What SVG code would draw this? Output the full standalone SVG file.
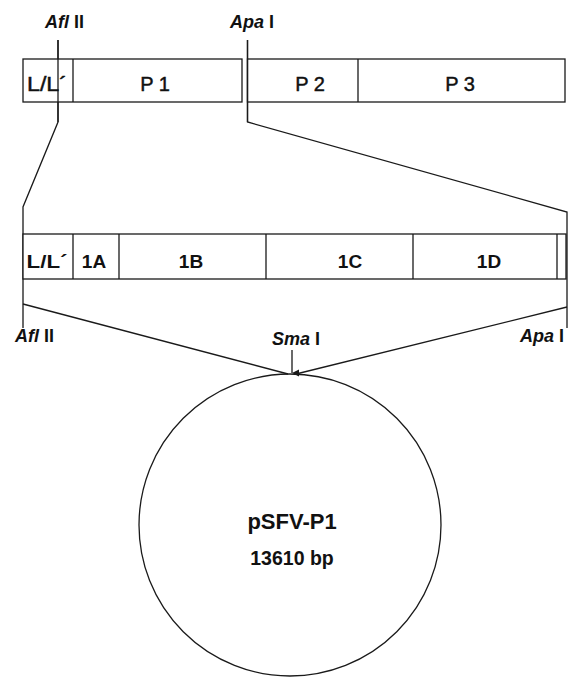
<svg xmlns="http://www.w3.org/2000/svg" width="571" height="677" viewBox="0 0 571 677">
<style>
.ln{fill:none;stroke:#1a1a1a;stroke-width:1.3}
.box{fill:#fff;stroke:#1a1a1a;stroke-width:1.3}
text{font-family:"Liberation Sans",Arial,sans-serif;fill:#111}
.lbl{font-size:20px;text-anchor:middle;stroke:#111;stroke-width:0.45}
.lb2{font-size:19px;font-weight:bold;text-anchor:middle}
.site{font-size:18px;font-weight:bold}
.it{font-style:italic}
</style>
<defs>
<marker id="ah" markerWidth="8" markerHeight="8" refX="4" refY="7" orient="auto" markerUnits="userSpaceOnUse">
<path d="M0.5,0 L4,7 L7.5,0 Z" fill="#1a1a1a"/>
</marker>
</defs>
<g id="connectors">
<path class="ln" d="M58,40 V122 L23,207 V328"/>
<path class="ln" d="M247.5,40 V122 L567,212 V328"/>
<path class="ln" d="M23,304 L288,374"/>
<path class="ln" d="M567,307 L296,374"/>
<path class="ln" d="M292,350 V373" marker-end="url(#ah)"/>
</g>
<g id="top-bar">
<rect class="box" x="23" y="59" width="219" height="43"/>
<line class="ln" x1="73" y1="59" x2="73" y2="102"/>
<rect class="box" x="247.5" y="59" width="317.5" height="43"/>
<line class="ln" x1="358" y1="59" x2="358" y2="102"/>
<path class="ln" d="M58,40 V122"/>
<path class="ln" d="M247.5,40 V122"/>
<text class="lbl" x="47" y="91" textLength="40" lengthAdjust="spacingAndGlyphs">L/L´</text>
<text class="lbl" x="155" y="91">P 1</text>
<text class="lbl" x="310" y="91">P 2</text>
<text class="lbl" x="460" y="91">P 3</text>
</g>
<g id="label-afl-top"><text class="site" x="45" y="28"><tspan class="it">Afl</tspan> II</text></g>
<g id="label-apa-top"><text class="site" x="230" y="28"><tspan class="it">Apa</tspan> I</text></g>
<g id="bottom-bar">
<rect class="box" x="23" y="234" width="543" height="45"/>
<line class="ln" x1="73" y1="234" x2="73" y2="279"/>
<line class="ln" x1="119" y1="234" x2="119" y2="279"/>
<line class="ln" x1="266" y1="234" x2="266" y2="279"/>
<line class="ln" x1="413" y1="234" x2="413" y2="279"/>
<line class="ln" x1="557" y1="234" x2="557" y2="279"/>
<text class="lb2" x="47" y="268" textLength="41" lengthAdjust="spacingAndGlyphs">L/L´</text>
<text class="lb2" x="94" y="268">1A</text>
<text class="lb2" x="191" y="268">1B</text>
<text class="lb2" x="350" y="268">1C</text>
<text class="lb2" x="489" y="268">1D</text>
</g>
<g id="label-afl-bottom"><text class="site" x="15" y="342"><tspan class="it">Afl</tspan> II</text></g>
<g id="label-apa-bottom"><text class="site" x="520" y="342"><tspan class="it">Apa</tspan> I</text></g>
<g id="label-sma"><text class="site" x="272" y="345"><tspan class="it">Sma</tspan> I</text></g>
<g id="plasmid">
<circle class="ln" cx="290" cy="525" r="151"/>
<text x="292" y="529" style="font-size:22px;font-weight:bold;text-anchor:middle">pSFV-P1</text>
<text x="292" y="565" style="font-size:19.5px;font-weight:bold;text-anchor:middle">13610 bp</text>
</g>
</svg>
